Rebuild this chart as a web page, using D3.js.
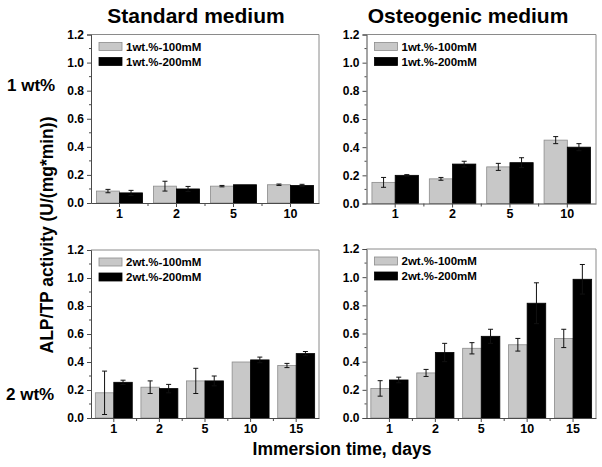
<!DOCTYPE html>
<html><head><meta charset="utf-8">
<script src="https://cdn.jsdelivr.net/npm/d3@7"></script>
<style>body{margin:0;background:#fff}svg{display:block}text{font-family:Arial,"Liberation Sans",sans-serif;font-weight:bold;fill:#000}</style>
</head><body>
<svg id="c" width="602" height="467"></svg>
<script>
// ---- data ----
const catsTop = ["1","2","5","10"];
const catsBottom = ["1","2","5","10","15"];
const yTickValues = [0,0.2,0.4,0.6,0.8,1.0,1.2];
const yTickLabels = ["0.0","0.2","0.4","0.6","0.8","1.0","1.2"];
const columnTitles = ["Standard medium","Osteogenic medium"];
const rowLabels = ["1 wt%","2 wt%"];
const legendTop = ["1wt.%-100mM","1wt.%-200mM"];
const legendBottom = ["2wt.%-100mM","2wt.%-200mM"];

const std1_100 = [0.085,0.12,0.12,0.13];
const std1_100err = [0.012,0.035,0.005,0.005];
const std1_200 = [0.072,0.10,0.13,0.125];
const std1_200err = [0.018,0.018,0,0.008];
const ost1_100 = [0.15,0.175,0.26,0.45];
const ost1_100err = [0.035,0.01,0.025,0.025];
const ost1_200 = [0.20,0.28,0.29,0.40];
const ost1_200err = [0.005,0.02,0.035,0.025];
const std2_100 = [0.18,0.22,0.265,0.40,0.375];
const std2_100err = [0.155,0.045,0.09,0,0.015];
const std2_200 = [0.255,0.21,0.265,0.415,0.46];
const std2_200err = [0.015,0.03,0.035,0.02,0.015];
const ost2_100 = [0.21,0.32,0.495,0.52,0.565];
const ost2_100err = [0.055,0.025,0.04,0.045,0.065];
const ost2_200 = [0.27,0.465,0.58,0.815,0.985];
const ost2_200err = [0.02,0.065,0.05,0.145,0.105];

// ---- layout ----
const svg = d3.select("#c");
const panels = [
  {x0:91, x1:319, y0:34.5, y1:203, cats:catsTop, a:std1_100, ae:std1_100err, b:std1_200, be:std1_200err, leg:legendTop},
  {x0:366.5, x1:596, y0:34.5, y1:203.5, cats:catsTop, a:ost1_100, ae:ost1_100err, b:ost1_200, be:ost1_200err, leg:legendTop},
  {x0:91, x1:319, y0:250, y1:418, cats:catsBottom, a:std2_100, ae:std2_100err, b:std2_200, be:std2_200err, leg:legendBottom},
  {x0:366.5, x1:596, y0:249, y1:418, cats:catsBottom, a:ost2_100, ae:ost2_100err, b:ost2_200, be:ost2_200err, leg:legendBottom}
];
const GRAY = "#c8c8c8", GRAYSTROKE = "#8c8c8c", AXIS = "#4a4a4a", FRAME = "#8a8a8a";

panels.forEach(p => {
  const g = svg.append("g");
  const x = d3.scaleBand().domain(p.cats).range([p.x0, p.x1]).padding(0);
  const bw = x.bandwidth();
  const xs = d3.scaleBand().domain(["a","b"]).range([bw*0.095, bw*0.905]).padding(0);
  const y = d3.scaleLinear().domain([0,1.2]).range([p.y1, p.y0]);

  // frame (top/right)
  g.append("path").attr("d", `M${p.x0},${p.y0}H${p.x1}V${p.y1}`).attr("fill","none").attr("stroke",FRAME).attr("stroke-width",1);

  const series = [{key:"a", v:p.a, e:p.ae, fill:GRAY, stroke:GRAYSTROKE},{key:"b", v:p.b, e:p.be, fill:"#000", stroke:"#000"}];
  series.forEach(s => {
    g.selectAll(null).data(p.cats).enter().append("rect")
      .attr("x", c => x(c) + xs(s.key))
      .attr("y", (c,i) => y(s.v[i]))
      .attr("width", xs.bandwidth())
      .attr("height", (c,i) => y(0) - y(s.v[i]))
      .attr("fill", s.fill).attr("stroke", s.stroke).attr("stroke-width", 0.8);
  });
  series.forEach(s => {
    p.cats.forEach((c,i) => {
      if (!s.e[i]) return;
      const cx = x(c) + xs(s.key) + xs.bandwidth()/2;
      const top = y(s.v[i] + s.e[i]), bot = y(s.v[i] - s.e[i]);
      const col = "#111";
      g.append("line").attr("x1",cx).attr("x2",cx).attr("y1",top).attr("y2",bot).attr("stroke",col).attr("stroke-width",1);
      [top,bot].forEach(yy => g.append("line").attr("x1",cx-2.5).attr("x2",cx+2.5).attr("y1",yy).attr("y2",yy).attr("stroke",col).attr("stroke-width",1));
    });
  });

  // y axis
  const yAxis = d3.axisLeft(y).tickValues(yTickValues).tickFormat((d,i)=>yTickLabels[i]).tickSize(4).tickPadding(3);
  const ya = g.append("g").attr("transform",`translate(${p.x0},0)`).call(yAxis);
  ya.select(".domain").attr("stroke",AXIS);
  ya.selectAll(".tick line").attr("stroke",AXIS);
  ya.selectAll("text").attr("font-size","12px").attr("font-family","Arial, 'Liberation Sans', sans-serif").attr("font-weight","bold").attr("fill","#000");
  // minor y ticks
  const minor = d3.range(0.1, 1.2, 0.2);
  g.selectAll(null).data(minor).enter().append("line")
    .attr("x1",p.x0-2).attr("x2",p.x0).attr("y1",d=>y(d)).attr("y2",d=>y(d)).attr("stroke",AXIS);

  // x axis
  const xAxis = d3.axisBottom(x).tickSize(4).tickPadding(2).tickSizeOuter(0);
  const xa = g.append("g").attr("transform",`translate(0,${p.y1})`).call(xAxis);
  xa.select(".domain").attr("stroke",AXIS);
  xa.selectAll(".tick line").attr("stroke",AXIS);
  xa.selectAll("text").attr("font-size","12.5px").attr("font-family","Arial, 'Liberation Sans', sans-serif").attr("font-weight","bold").attr("fill","#000");
  // minor x ticks at band boundaries
  const bounds = p.cats.slice(1).map(c => x(c));
  g.selectAll(null).data(bounds).enter().append("line")
    .attr("x1",d=>d).attr("x2",d=>d).attr("y1",p.y1).attr("y2",p.y1+3).attr("stroke",AXIS);

  // legend
  const lx = p.x0 + 8;
  [[GRAY,GRAYSTROKE],["#000","#000"]].forEach((c,i) => {
    const ly = p.y0 + 8 + i*15;
    g.append("rect").attr("x",lx).attr("y",ly).attr("width",23).attr("height",8).attr("fill",c[0]).attr("stroke",c[1]).attr("stroke-width",0.8);
    g.append("text").attr("x",lx+27).attr("y",ly+8).attr("font-size","11.5px").text(p.leg[i]);
  });
});

// titles
svg.append("text").attr("x",196).attr("y",23).attr("text-anchor","middle").attr("font-size","21px").text(columnTitles[0]);
svg.append("text").attr("x",468).attr("y",23).attr("text-anchor","middle").attr("font-size","21px").text(columnTitles[1]);
// row labels
svg.append("text").attr("x",7).attr("y",91).attr("font-size","17px").text(rowLabels[0]);
svg.append("text").attr("x",6).attr("y",400).attr("font-size","17px").text(rowLabels[1]);
// axis titles
svg.append("text").attr("transform","translate(53,235) rotate(-90)").attr("text-anchor","middle").attr("font-size","17.5px").text("ALP/TP activity (U/(mg*min))");
svg.append("text").attr("x",342).attr("y",455).attr("text-anchor","middle").attr("font-size","17.5px").text("Immersion time, days");
</script>
</body></html>
